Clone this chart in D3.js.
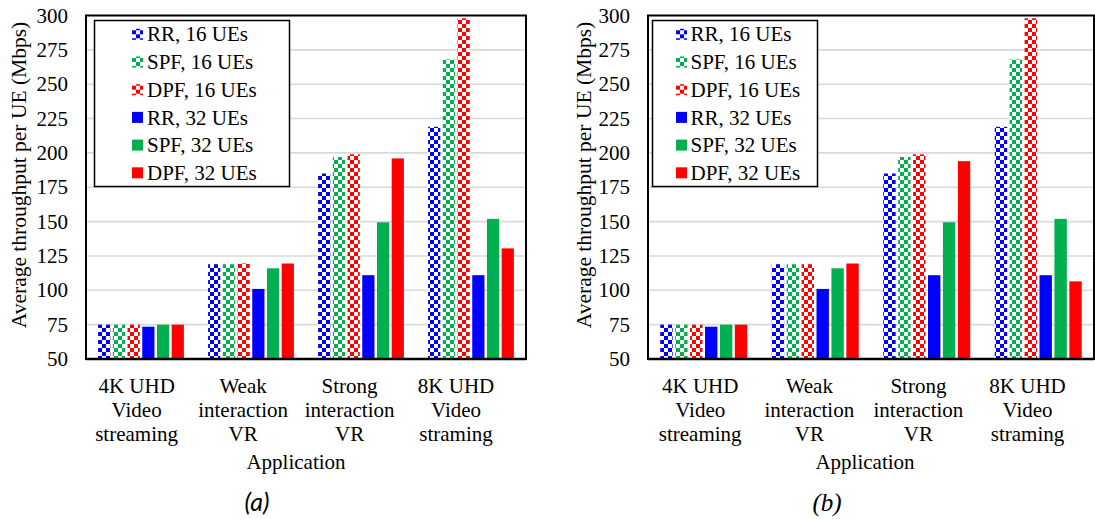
<!DOCTYPE html>
<html>
<head>
<meta charset="utf-8">
<script src="https://cdn.jsdelivr.net/npm/d3@7"></script>
</head>
<body style="margin:0;background:#fff">
<svg id="s" width="1095" height="519" font-family="Liberation Serif" font-size="21" style="display:block"></svg>
<script>
// ---------------- data ----------------
const categories = ["4K UHD Video streaming", "Weak interaction VR", "Strong interaction VR", "8K UHD Video straming"];
const categoryLines = [["4K UHD", "Video", "streaming"], ["Weak", "interaction", "VR"], ["Strong", "interaction", "VR"], ["8K UHD", "Video", "straming"]];
const seriesNames = ["RR, 16 UEs", "SPF, 16 UEs", "DPF, 16 UEs", "RR, 32 UEs", "SPF, 32 UEs", "DPF, 32 UEs"];
const seriesColors = ["#0000ff", "#00b050", "#ff0000", "#0000ff", "#00b050", "#ff0000"];
const seriesPatterned = [true, true, true, false, false, false];
const yTicks = [50, 75, 100, 125, 150, 175, 200, 225, 250, 275, 300];

// panel (a): one array per series, one value per category
const aRR16  = [75, 119, 185, 219];
const aSPF16 = [75, 119, 197, 268];
const aDPF16 = [75, 119.5, 199, 298];
const aRR32  = [73.5, 101, 111, 111];
const aSPF32 = [75, 116, 149.5, 152];
const aDPF32 = [75, 119.5, 196, 130.5];

// panel (b)
const bRR16  = [75, 119, 185, 219];
const bSPF16 = [75, 119, 197, 268];
const bDPF16 = [75, 119, 199, 298];
const bRR32  = [73.5, 101, 111, 111];
const bSPF32 = [75, 116, 149.5, 152];
const bDPF32 = [75, 119.5, 194, 106.5];

const panelA = [aRR16, aSPF16, aDPF16, aRR32, aSPF32, aDPF32];
const panelB = [bRR16, bSPF16, bDPF16, bRR32, bSPF32, bDPF32];

const SERIF = "Liberation Serif";

// ---------------- drawing ----------------
const svg = d3.select("#s");

const panels = [
  { values: panelA, left: 86, right: 526, top: 15.5, bottom: 359,
    legend: { x: 94.5, y: 20.5, w: 195, h: 166, swatchX: 132, textX: 147 },
    yTitleX: 19, appX: 296, label: "(a)", labelX: 257, labelFont: "Lato", labelSize: 25,
    lblRange: [0.115, 0.841] },
  { values: panelB, left: 648, right: 1094, top: 15.5, bottom: 359,
    legend: { x: 652.5, y: 20.5, w: 165, h: 166, swatchX: 676, textX: 690.5 },
    yTitleX: 584, appX: 865, label: "(b)", labelX: 827, labelFont: SERIF, labelSize: 25,
    lblRange: [0.117, 0.851] }
];

// ---- texts first ----
const textLayer = svg.append("g").attr("font-family", SERIF).attr("font-size", 21);

const defs = svg.append("defs");
const uniqueColors = Array.from(new Set(seriesColors));
uniqueColors.forEach(c => {
  const p = defs.append("pattern")
    .attr("id", "chk" + c.slice(1))
    .attr("patternUnits", "userSpaceOnUse")
    .attr("width", 8).attr("height", 8);
  p.append("rect").attr("width", 8).attr("height", 8).attr("fill", "#fff");
  p.append("rect").attr("x", 0).attr("y", 0).attr("width", 4).attr("height", 4).attr("fill", c);
  p.append("rect").attr("x", 4).attr("y", 4).attr("width", 4).attr("height", 4).attr("fill", c);
});
const fillOf = i => seriesPatterned[i] ? `url(#chk${seriesColors[i].slice(1)})` : seriesColors[i];

const markLayer = svg.append("g");
const legendLayer = svg.append("g");

panels.forEach(P => {
  const w = P.right - P.left;
  const g = markLayer.append("g").attr("transform", `translate(${P.left},0)`);
  const tg = textLayer.append("g").attr("transform", `translate(${P.left},0)`);

  const y = d3.scaleLinear().domain([50, 300]).range([P.bottom, P.top]);
  const x0 = d3.scaleBand().domain(categories).range([0, w]).paddingInner(0.22).paddingOuter(0.11);
  const x1 = d3.scaleBand().domain(seriesNames).range([0, x0.bandwidth()]).paddingInner(0.17).paddingOuter(0);
  const xl = d3.scalePoint().domain(categories).range([P.lblRange[0] * w, P.lblRange[1] * w]);

  // gridlines
  g.append("g").selectAll("line").data(yTicks.slice(1, -1)).join("line")
    .attr("x1", 0).attr("x2", w)
    .attr("y1", d => y(d)).attr("y2", d => y(d))
    .attr("stroke", "#d9d9d9").attr("stroke-width", 1.6);

  // bars
  seriesNames.forEach((s, si) => {
    g.append("g").selectAll("rect").data(P.values[si]).join("rect")
      .attr("x", (d, ci) => x0(categories[ci]) + x1(s))
      .attr("width", x1.bandwidth())
      .attr("y", d => y(d))
      .attr("height", d => y(50) - y(d))
      .attr("fill", fillOf(si));
  });

  // frame
  g.append("rect").attr("x", 0).attr("y", P.top).attr("width", w).attr("height", P.bottom - P.top)
    .attr("fill", "none").attr("stroke", "#000").attr("stroke-width", 2);
  g.append("line").attr("x1", 0).attr("x2", w).attr("y1", P.bottom).attr("y2", P.bottom)
    .attr("stroke", "#000").attr("stroke-width", 2.6);

  // y tick labels (positions from the scale)
  tg.append("g").selectAll("text").data(yTicks).join("text")
    .attr("x", -18).attr("y", d => y(d)).attr("dy", "0.34em")
    .attr("text-anchor", "end").attr("fill", "#000")
    .text(d => d3.format("d")(d));

  // category labels
  const cl = tg.append("g").selectAll("text").data(categories).join("text")
    .attr("text-anchor", "middle")
    .attr("transform", d => `translate(${xl(d)},0)`);
  cl.selectAll("tspan").data((d, i) => categoryLines[i]).join("tspan")
    .attr("x", 0).attr("y", (d, i) => 386 + i * 23.7).attr("dy", "0.34em")
    .text(d => d);

  // axis titles
  textLayer.append("text").attr("x", P.appX).attr("y", 462).attr("dy", "0.34em")
    .attr("text-anchor", "middle").text("Application");
  textLayer.append("text").attr("transform", `translate(${P.yTitleX},175) rotate(-90)`)
    .attr("text-anchor", "middle").attr("dy", "0.34em").attr("font-size", 21.5)
    .text("Average throughput per UE (Mbps)");

  // panel label
  textLayer.append("text").attr("x", P.labelX).attr("y", 502).attr("dy", "0.34em")
    .attr("text-anchor", "middle").attr("font-family", P.labelFont).attr("font-size", P.labelSize)
    .attr("font-style", "italic").text(P.label);

  // legend
  const L = P.legend;
  const lg = legendLayer.append("g");
  lg.append("rect").attr("x", L.x).attr("y", L.y).attr("width", L.w).attr("height", L.h)
    .attr("fill", "#fff").attr("stroke", "#000").attr("stroke-width", 1.5);
  const items = lg.selectAll("g.item").data(seriesNames).join("g").attr("class", "item")
    .attr("transform", (d, i) => `translate(0,${34.3 + i * 27.7})`);
  items.append("rect").attr("x", L.swatchX).attr("y", -5.5).attr("width", 11).attr("height", 11)
    .attr("fill", (d, i) => fillOf(i));
  items.append("text").attr("x", L.textX).attr("y", 0).attr("dy", "0.34em")
    .attr("font-family", SERIF).attr("font-size", 21)
    .text(d => d);
});
</script>
</body>
</html>
